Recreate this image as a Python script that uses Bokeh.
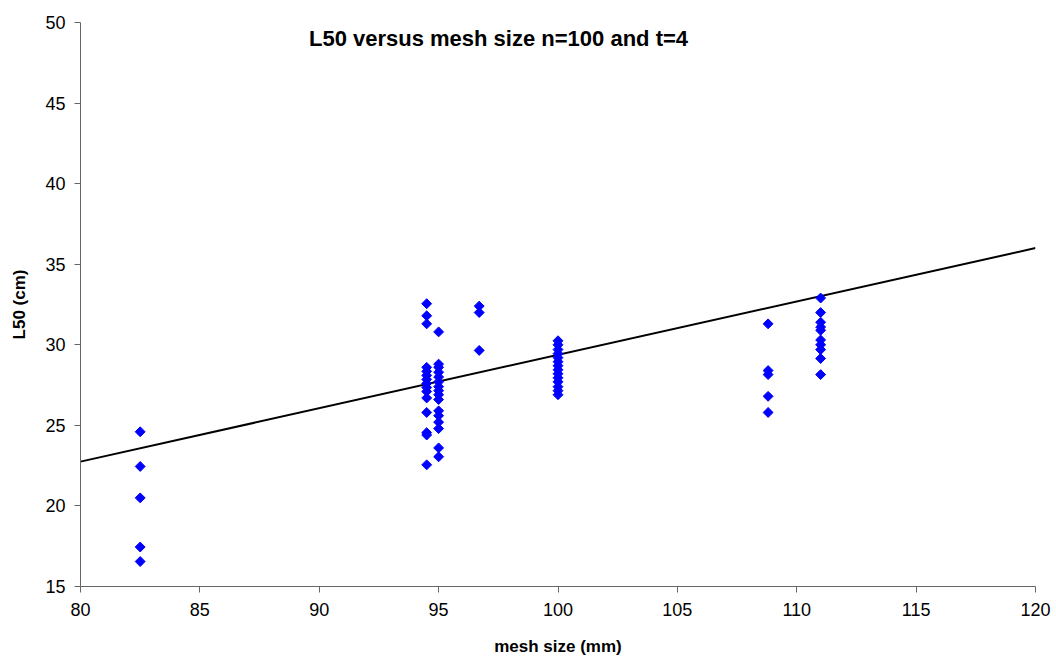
import numpy as np
from bokeh.plotting import figure
from bokeh.models import ColumnDataSource, Range1d, FixedTicker, Label
from bokeh.embed import file_html
from bokeh.resources import INLINE

# ---- data ----
mesh_82 = 82.5
l50_82 = [24.6, 22.45, 20.5, 17.45, 16.55]
mesh_945 = 94.5
l50_945 = [32.55, 31.8, 31.3, 28.6, 28.35, 28.1, 27.85, 27.6, 27.35, 27.1, 26.7,
           25.8, 24.55, 24.4, 22.55]
mesh_95 = 95.0
l50_95 = [30.8, 28.8, 28.6, 28.3, 28.0, 27.7, 27.4, 27.15, 26.9, 26.6, 25.9, 25.6,
          25.2, 24.8, 23.6, 23.05]
mesh_967 = 96.7
l50_967 = [32.4, 32.0, 29.65]
mesh_100 = 100.0
l50_100 = [30.25, 30.0, 29.7, 29.45, 29.2, 28.95, 28.7, 28.45, 28.2, 27.95, 27.7,
           27.4, 27.15, 26.9]
mesh_1088 = 108.8
l50_1088 = [31.3, 28.4, 28.15, 26.8, 25.8]
mesh_111 = 111.0
l50_111 = [32.9, 32.0, 31.4, 31.1, 30.9, 30.3, 30.0, 29.7, 29.15, 28.15]

fit_x = [80, 120]
fit_y = [22.75, 36.0]

x_ticks = [80, 85, 90, 95, 100, 105, 110, 115, 120]
y_ticks = [15, 20, 25, 30, 35, 40, 45, 50]

groups = [(mesh_82, l50_82), (mesh_945, l50_945), (mesh_95, l50_95),
          (mesh_967, l50_967), (mesh_100, l50_100), (mesh_1088, l50_1088),
          (mesh_111, l50_111)]
xs, ys = [], []
for m, vals in groups:
    xs += [m] * len(vals)
    ys += vals
src = ColumnDataSource(dict(x=xs, y=ys))

FONT = "Liberation Sans"

p = figure(width=1056, height=661, output_backend="svg", toolbar_location=None,
           x_range=Range1d(80, 120), y_range=Range1d(15, 50),
           min_border_left=80, min_border_right=21, min_border_top=22,
           min_border_bottom=75)
p.outline_line_color = None
p.xgrid.visible = False
p.ygrid.visible = False
p.background_fill_color = "white"
p.border_fill_color = "white"

p.line(fit_x, fit_y, line_color="black", line_width=2)
p.scatter("x", "y", source=src, marker="square", angle=np.pi / 4, size=7,
          fill_color="#0000FF", line_color="#0000FF")

for ax in (p.xaxis[0], p.yaxis[0]):
    ax.axis_line_color = "#666666"
    ax.major_tick_line_color = "#666666"
    ax.major_tick_out = 6
    ax.major_tick_in = 0
    ax.minor_tick_line_color = None
    ax.major_label_text_font = FONT
    ax.major_label_text_font_size = "18px"
    ax.major_label_text_color = "black"
    ax.axis_label_text_font = FONT
    ax.axis_label_text_font_size = "17px"
    ax.axis_label_text_font_style = "bold"
    ax.axis_label_text_color = "black"

p.xaxis.ticker = FixedTicker(ticks=x_ticks)
p.yaxis.ticker = FixedTicker(ticks=y_ticks)
p.xaxis.axis_label = "mesh size (mm)"
p.yaxis.axis_label = "L50 (cm)"
p.xaxis.major_label_standoff = 10
p.yaxis.major_label_standoff = 9
p.xaxis.axis_label_standoff = 18
p.yaxis.axis_label_standoff = 13

title = Label(x=418, y=548, x_units="screen", y_units="screen",
              text="L50 versus mesh size n=100 and t=4", text_font=FONT,
              text_font_size="22px", text_font_style="bold", text_color="black",
              text_align="center", text_baseline="middle")
p.add_layout(title)

open("out.html", "w").write(file_html(p, INLINE))
